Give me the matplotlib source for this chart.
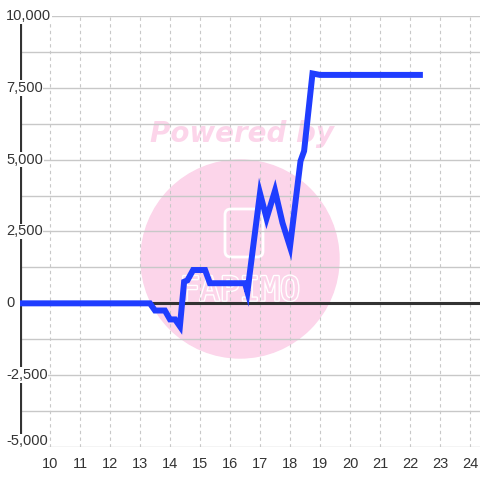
import numpy as np
import matplotlib.pyplot as plt
from matplotlib.patches import Circle, FancyBboxPatch
import matplotlib.patheffects as pe
from matplotlib.transforms import blended_transform_factory

# Datos (hora, valor)
horas = [9.0, 13.33, 13.5, 13.67, 13.83, 14.0, 14.17, 14.33, 14.47, 14.58,
         14.77, 15.0, 15.17, 15.33, 15.67, 16.0, 16.5, 16.58, 16.8, 17.0,
         17.22, 17.5, 17.75, 18.0, 18.35, 18.47, 18.75, 19.0, 20.0, 21.0,
         22.33]
valores = [0, 0, -250, -250, -250, -560, -560, -800, 750, 800,
           1160, 1160, 1160, 700, 700, 700, 700, 400, 2200, 3830,
           2960, 3920, 2800, 1970, 4950, 5300, 8000, 7950, 7950, 7950,
           7950]

yticks = [10000, 7500, 5000, 2500, 0, -2500, -5000]
ytick_labels = ["10,000", "7,500", "5,000", "2,500", "0", "-2,500", "-5,000"]
xticks = list(range(10, 25))

plt.rcParams['font.family'] = ['Liberation Sans', 'DejaVu Sans']

fig = plt.figure(figsize=(4.8, 4.8), dpi=100)
ax = fig.add_axes([20 / 480, 33 / 480, 460 / 480, 431 / 480])
ax.set_xlim(9, 9 + 460 / 30)
ax.set_ylim(-5000, 10000)

for s in ax.spines.values():
    s.set_visible(False)

# Marca de agua (debajo de la rejilla)
ftr = fig.transFigure
ax.add_patch(Circle((240 / 480, (480 - 259) / 480), 99 / 480, transform=ftr,
                    color='#fcd5ea', zorder=0.2, clip_on=False))
ax.text(242 / 480, (480 - 134) / 480, "Powered by", color='#fcd5ea',
        fontsize=20, fontweight='bold', style='italic', family='DejaVu Sans',
        ha='center', va='center', zorder=0.3, transform=ftr)
ax.add_patch(FancyBboxPatch((225 / 480, (480 - 257) / 480), 38 / 480, 48 / 480,
                            boxstyle="round,pad=0,rounding_size=0.012",
                            transform=ftr, fill=False, ec='white', lw=2,
                            zorder=0.3, clip_on=False))
ax.text(240 / 480, (480 - 291) / 480, "FAPIMO", color='#fcd5ea',
        fontsize=24, family='DejaVu Sans Mono', ha='center', va='center',
        zorder=0.3, transform=ftr,
        path_effects=[pe.withStroke(linewidth=2, foreground='white')])

# Rejilla
for y in np.arange(-5000, 10001, 1250):
    ax.axhline(y, color='#c8c8c8', lw=1, zorder=1)
for x in xticks:
    ax.axvline(x, color='#c8c8c8', lw=0.8, ls=(0, (3, 3)), zorder=1)

ax.axhline(0, color='#333333', lw=2.2, zorder=2)
ax.axvline(9, ymin=(-4700 + 5000) / 15000, ymax=(9750 + 5000) / 15000,
           color='#333333', lw=3, zorder=2)

ax.plot(horas, valores, color='#1f3dff', lw=4.3, solid_joinstyle='miter',
        zorder=3)

ax.set_xticks([])
ax.set_yticks([])
for x in xticks:
    ax.annotate(str(x), (x, -5000), xytext=(0, -7), textcoords='offset points',
                ha='center', va='top', fontsize=10.5, color='#333333')
trans = blended_transform_factory(ftr, ax.transData)
for y, lab in zip(yticks, ytick_labels):
    dy = 4 if y == -5000 else 0
    ax.annotate(lab, (6 / 480, y), xycoords=trans, xytext=(0, dy),
                textcoords='offset points', ha='left', va='center',
                fontsize=10.5, color='#333333', zorder=4,
                bbox=dict(facecolor='white', edgecolor='none', pad=0.5))

fig.savefig("out.png", dpi=100)
